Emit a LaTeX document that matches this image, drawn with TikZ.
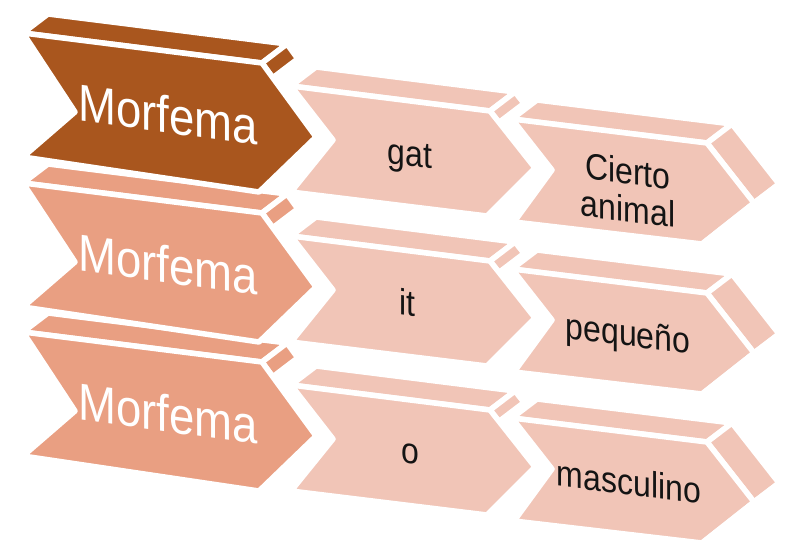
\documentclass[tikz,border=0pt]{standalone}
\usepackage{fontspec}
\setmainfont{Liberation Sans}
\usetikzlibrary{calc}
\definecolor{brownA}{HTML}{A9561E}
\definecolor{salmonA}{HTML}{E99F82}
\definecolor{pinkA}{HTML}{F1C5B7}
\definecolor{txtA}{HTML}{141414}
\tikzset{
  face/.style={draw=white, line width=5.5pt, line join=round},
  bigtxt/.style={text=white, font=\fontsize{45.5}{45}\selectfont, yscale=1.14, yslant=-0.12, anchor=base, inner sep=0pt},
  smalltxt/.style={text=txtA, font=\fontsize{32}{33}\selectfont, yscale=1.14, yslant=-0.11, inner sep=0pt, align=center},
}
% #1 prefix, #2 colour, #3 TL, #4 TR, #5 tip, #6 BR, #7 BL, #8 notch, #9 visible fraction of side face
\newcommand\chevron[9]{%
  \coordinate (#1a) at #3;
  \coordinate (#1b) at #4;
  \coordinate (#1c) at #5;
  \coordinate (#1d) at #6;
  \coordinate (#1e) at #7;
  \coordinate (#1f) at #8;
  \coordinate (#1g) at ($(#1b)!#9!(#1c)$);
  \path[face, fill=#2] (#1a) -- ($(#1a)+(25,-19)$) -- ($(#1b)+(25,-19)$) -- (#1b) -- cycle;
  \path[face, fill=#2] (#1b) -- ($(#1b)+(25,-19)$) -- ($(#1g)+(25,-19)$) -- (#1g) -- cycle;
  \path[face, fill=#2] (#1a) -- (#1b) -- (#1c) -- (#1d) -- (#1e) -- (#1f) -- cycle;
}
\newcommand\lowerface[2]{%
  \path[face, fill=#2] (#1c) -- ($(#1c)+(25,-19)$) -- ($(#1d)+(25,-19)$) -- (#1d) -- cycle;
}
% #1 prefix, #2 y offset, #3 colour of first chevron
\newcommand\chevrow[3]{%
  \def\ro{#2}%
  \chevron{#1x}{#3}{(23,{33+\ro})}{(262,{63+\ro})}{(316,{137+\ro})}{(259,{192+\ro})}{(23,{157+\ro})}{(75,{112+\ro})}{0.2}
  \chevron{#1y}{pinkA}{(291,{86+\ro})}{(490,{111+\ro})}{(535,{168+\ro})}{(487,{216+\ro})}{(291,{192+\ro})}{(333,{140+\ro})}{0.2}
  \chevron{#1z}{pinkA}{(512,{119+\ro})}{(707,{143+\ro})}{(754,{203+\ro})}{(702,{244+\ro})}{(514,{222+\ro})}{(552,{170+\ro})}{1}
  \lowerface{#1z}{pinkA}
}
\begin{document}
\begin{tikzpicture}[x=1pt,y=-1pt]
\useasboundingbox (0,0) rectangle (786,548);
\chevrow{r3}{299}{salmonA}
\chevrow{r2}{150}{salmonA}
\chevrow{r1}{0}{brownA}
\node[bigtxt] (m1) at (168,133) {Morfema};
\node[bigtxt] (m2) at (168,283) {Morfema};
\node[bigtxt] (m3) at (168,432) {Morfema};
\node[smalltxt, anchor=base] (g1) at (410,166) {gat};
\node[smalltxt, anchor=base] (g2) at (407,316) {it};
\node[smalltxt, anchor=base] (g3) at (410,464) {o};
\node[smalltxt] (s1) at (628,190) {Cierto\\animal};
\node[smalltxt, anchor=base] (s2) at (628,346) {pequeño};
\node[smalltxt, anchor=base] (s3) at (629,495) {masculino};
\end{tikzpicture}
\end{document}
